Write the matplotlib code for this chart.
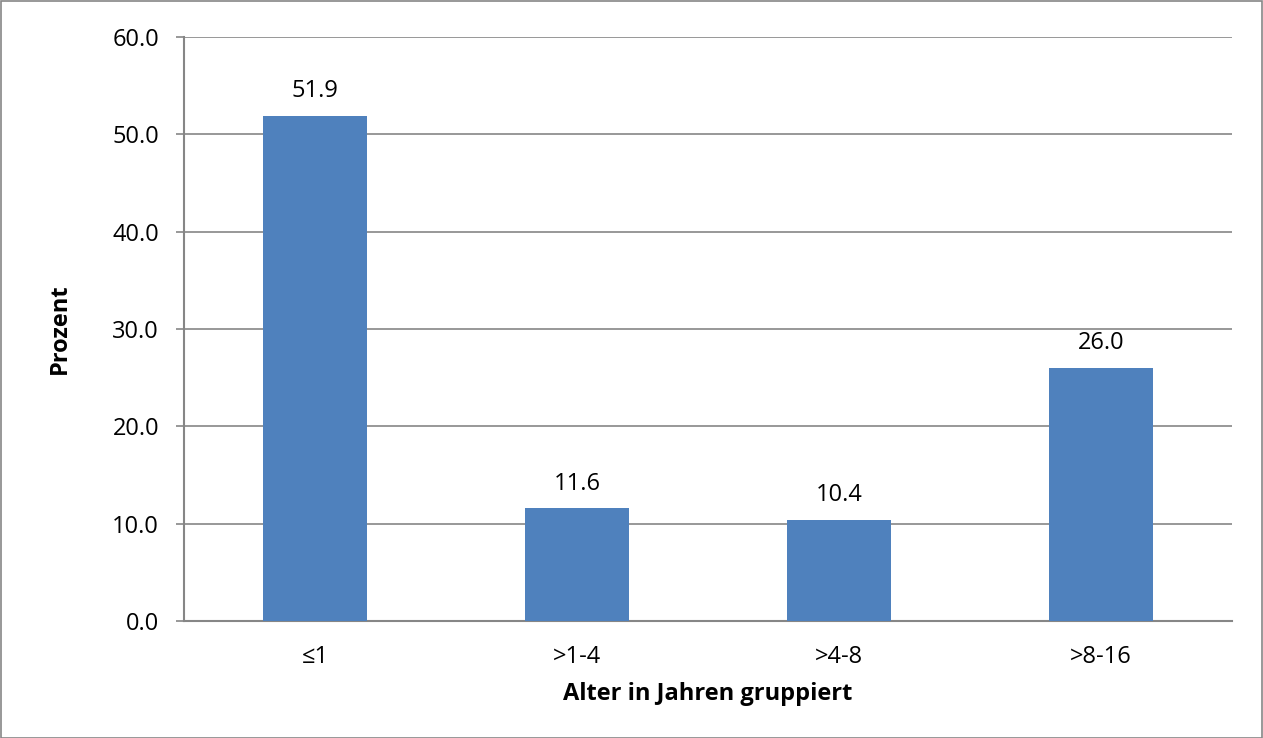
import matplotlib
matplotlib.use("Agg")
import matplotlib.pyplot as plt
from matplotlib.patches import Rectangle

plt.rcParams['font.family'] = ['Open Sans', 'DejaVu Sans']

categories = ["≤1", ">1-4", ">4-8", ">8-16"]
values = [51.9, 11.6, 10.4, 26.0]
yticks = [0, 10, 20, 30, 40, 50, 60]

W, H = 1263, 738
fig = plt.figure(figsize=(W / 100, H / 100), dpi=100)
ax = fig.add_axes([184 / W, 1 - 621 / H, (1232 - 184) / W, (621 - 37) / H])

grid_col = "#868686"
bar_col = "#4F81BD"
fs = 17

x = range(len(categories))
bars = ax.bar(x, values, width=0.4, color=bar_col, zorder=3)
ax.bar_label(bars, labels=[f"{v:.1f}" for v in values], padding=9, fontsize=fs)

ax.set_xlim(-0.5, len(categories) - 0.5)
ax.set_ylim(0, 60)
ax.set_yticks(yticks)
ax.set_yticklabels([f"{v:.1f}" for v in yticks], fontsize=fs)
ax.set_xticks(list(x))
ax.set_xticklabels(categories, fontsize=fs)

ax.yaxis.grid(True, color=grid_col, linewidth=1.2, zorder=0)
ax.set_axisbelow(True)
for side in ("top", "right"):
    ax.spines[side].set_visible(False)
for side in ("left", "bottom"):
    ax.spines[side].set_color(grid_col)
    ax.spines[side].set_linewidth(1.5)

ax.tick_params(axis="y", length=6, width=1.2, color=grid_col, pad=12)
ax.tick_params(axis="x", length=0, pad=17)

ax.set_xlabel("Alter in Jahren gruppiert", fontsize=fs, fontweight="bold", labelpad=10)
ax.set_ylabel("Prozent", fontsize=fs, fontweight="bold", labelpad=29)

# outer frame around the whole chart
fig.patches.append(Rectangle((0.5 / W, 0.5 / H), 1 - 1.5 / W, 1 - 1.5 / H,
                             transform=fig.transFigure, fill=False,
                             edgecolor=grid_col, linewidth=1.2))

fig.savefig("out.png", dpi=100)
